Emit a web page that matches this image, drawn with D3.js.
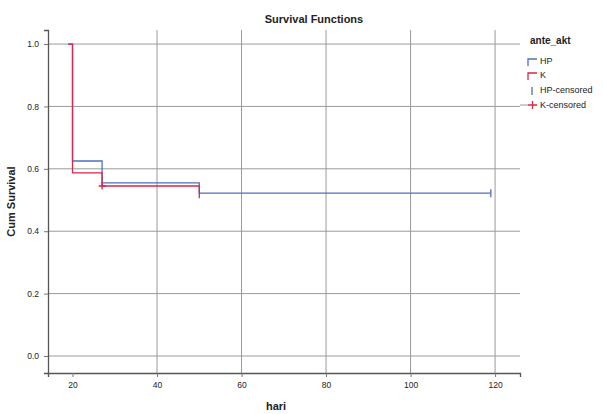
<!DOCTYPE html>
<html>
<head>
<meta charset="utf-8">
<title>Survival Functions</title>
<style>
  body { margin: 0; background: #fff; }
  text { font-family: "Liberation Sans", Arial, sans-serif; fill: #222; }
</style>
</head>
<body>
<script src="https://cdn.jsdelivr.net/npm/d3@7"></script>
<script>
var width = 603, height = 414;

// data
var groups = ["HP", "K"];
var hpTime = [19, 20, 27, 50, 119];
var hpSurv = [1.0, 0.625, 0.555, 0.522, 0.522];
var kTime = [19, 20, 27, 50];
var kSurv = [1.0, 0.587, 0.545, 0.506];
var hpCensTime = [119];
var hpCensSurv = [0.522];
var kCensTime = [27];
var kCensSurv = [0.545];
var xTicks = [20, 40, 60, 80, 100, 120];
var yTicks = [0, 0.2, 0.4, 0.6, 0.8, 1.0];
var legendLabels = ["HP", "K", "HP-censored", "K-censored"];

var colors = { HP: "#4f6fbf", K: "#d2294e" };

var svg = d3.select("body").append("svg")
  .attr("width", width)
  .attr("height", height);

var pLeft = 48, pRight = 520, pTop = 30, pBottom = 373;

var x = d3.scaleLinear().domain([14.2, 125.9]).range([pLeft, pRight]);
var y = d3.scaleLinear().domain([-0.0545, 1.045]).range([pBottom, pTop]);

// grid
svg.append("g").selectAll("line")
  .data(yTicks).enter().append("line")
  .attr("x1", pLeft).attr("x2", pRight)
  .attr("y1", function(d) { return y(d); })
  .attr("y2", function(d) { return y(d); })
  .attr("stroke", "#9a9a9a").attr("stroke-width", 1);

svg.append("g").selectAll("line")
  .data(xTicks.slice(1)).enter().append("line")
  .attr("y1", pTop).attr("y2", pBottom)
  .attr("x1", function(d) { return x(d); })
  .attr("x2", function(d) { return x(d); })
  .attr("stroke", "#9a9a9a").attr("stroke-width", 1);

// axes
var xAxis = svg.append("g")
  .attr("transform", "translate(0," + pBottom + ")")
  .call(d3.axisBottom(x).tickValues(xTicks).tickSize(4).tickFormat(d3.format("d")));
var yAxis = svg.append("g")
  .attr("transform", "translate(" + pLeft + ",0)")
  .call(d3.axisLeft(y).tickValues(yTicks).tickSize(4).tickFormat(d3.format(".1f")));

[xAxis, yAxis].forEach(function(a) {
  a.select(".domain").attr("stroke", "#555").attr("stroke-width", 1.3);
  a.selectAll(".tick line").attr("stroke", "#777");
  a.selectAll("text").attr("font-size", 8.5).attr("fill", "#222")
    .attr("font-family", "Liberation Sans, Arial, sans-serif");
});
xAxis.selectAll("text").attr("dy", "0.9em");
yAxis.selectAll("text").attr("dx", "-2");

// step curves
var step = d3.line()
  .x(function(d) { return x(d[0]); })
  .y(function(d) { return y(d[1]); })
  .curve(d3.curveStepAfter);

var curves = [
  { g: "HP", pts: d3.zip(hpTime, hpSurv) },
  { g: "K", pts: d3.zip(kTime, kSurv) }
];

svg.append("g").selectAll("path")
  .data(curves).enter().append("path")
  .attr("d", function(d) { return step(d.pts); })
  .attr("fill", "none")
  .attr("stroke", function(d) { return colors[d.g]; })
  .attr("stroke-width", 1.3);

// censored marks
svg.append("g").selectAll("line")
  .data(d3.zip(hpCensTime, hpCensSurv)).enter().append("line")
  .attr("x1", function(d) { return x(d[0]); })
  .attr("x2", function(d) { return x(d[0]); })
  .attr("y1", function(d) { return y(d[1]) - 4; })
  .attr("y2", function(d) { return y(d[1]) + 4; })
  .attr("stroke", colors.HP).attr("stroke-width", 1.3);

svg.append("g").selectAll("path")
  .data(d3.zip(kCensTime, kCensSurv)).enter().append("path")
  .attr("transform", function(d) { return "translate(" + x(d[0]) + "," + y(d[1]) + ")"; })
  .attr("d", "M-3.5,0H3.5M0,-3.5V3.5")
  .attr("stroke", colors.K).attr("stroke-width", 1.3).attr("fill", "none");

// titles
svg.append("text")
  .attr("x", 314).attr("y", 23)
  .attr("text-anchor", "middle")
  .attr("font-size", 11).attr("font-weight", "bold")
  .text("Survival Functions");

svg.append("text")
  .attr("x", 276).attr("y", 410)
  .attr("text-anchor", "middle")
  .attr("font-size", 11).attr("font-weight", "bold")
  .text("hari");

svg.append("text")
  .attr("transform", "translate(15," + ((pTop + pBottom) / 2) + ") rotate(-90)")
  .attr("text-anchor", "middle")
  .attr("font-size", 11).attr("font-weight", "bold")
  .text("Cum Survival");

// legend
var lg = svg.append("g");
lg.append("text")
  .attr("x", 530).attr("y", 44)
  .attr("font-size", 10).attr("font-weight", "bold")
  .text("ante_akt");

var ly = [62, 76, 91, 106];
legendLabels.forEach(function(lab, i) {
  var c = colors[groups[i % 2]];
  var yy = ly[i];
  if (i < 2) {
    lg.append("path")
      .attr("d", "M528," + (yy + 4) + "V" + (yy - 3) + "H537")
      .attr("fill", "none").attr("stroke", c).attr("stroke-width", 1.3);
  } else if (i == 2) {
    lg.append("line")
      .attr("x1", 532).attr("x2", 532)
      .attr("y1", yy - 4).attr("y2", yy + 4)
      .attr("stroke", c).attr("stroke-width", 1.3);
  } else {
    lg.append("line")
      .attr("x1", pRight).attr("x2", 528)
      .attr("y1", yy - 1).attr("y2", yy - 1)
      .attr("stroke", "#9a9a9a");
    lg.append("path")
      .attr("d", "M528," + (yy - 1) + "H537M532.5," + (yy - 5) + "V" + (yy + 3))
      .attr("fill", "none").attr("stroke", c).attr("stroke-width", 1.3);
  }
  lg.append("text")
    .attr("x", 540).attr("y", yy + 2)
    .attr("font-size", 9)
    .text(lab);
});
</script>
</body>
</html>
